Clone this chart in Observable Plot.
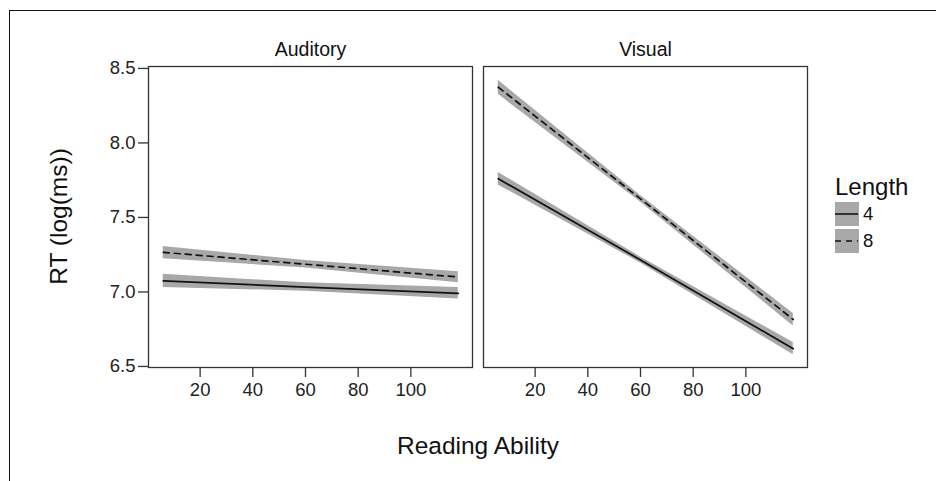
<!DOCTYPE html>
<html>
<head>
<meta charset="utf-8">
<script src="https://cdn.jsdelivr.net/npm/d3@7"></script>
<script src="https://cdn.jsdelivr.net/npm/@observablehq/plot@0.6"></script>
<style>
  body { margin: 0; background: #fff; }
  #wrap { position: relative; width: 936px; height: 481px; overflow: hidden; font-family: "Liberation Sans", Arial, sans-serif; }
  #border { position: absolute; left: 9px; top: 10px; right: -5px; bottom: -5px; border-top: 1.5px solid #111; border-left: 1.5px solid #111; }
  #legend { position: absolute; left: 835px; top: 173px; color: #111; }
  #legend .title { font-size: 24px; line-height: 28px; }
  #legend .row { display: flex; align-items: center; height: 26.5px; }
  #legend .row span { font-size: 18.5px; margin-left: 4px; }
</style>
</head>
<body>
<div id="wrap">
  <div id="chart"></div>
  <div id="border"></div>
  <div id="legend">
    <div class="title">Length</div>
    <div class="row"><svg width="24" height="24"><rect width="24" height="24" fill="#a8a8a8"/><line x1="0" x2="23" y1="12" y2="12" stroke="#111" stroke-width="1.6"/></svg><span>4</span></div>
    <div class="row"><svg width="24" height="24"><rect width="24" height="24" fill="#a8a8a8"/><line x1="0" x2="23" y1="12" y2="12" stroke="#111" stroke-width="1.6" stroke-dasharray="6,5"/></svg><span>8</span></div>
  </div>
</div>
<script>
// Data (fitted lines with confidence bands)
const modalities = ["Auditory", "Visual"];
const lengths = ["4", "8"];
const abilities = [6, 60, 118];
const fitAud4 = [7.074, 7.033, 6.990];
const loAud4  = [7.030, 7.005, 6.952];
const hiAud4  = [7.118, 7.061, 7.030];
const fitAud8 = [7.266, 7.186, 7.100];
const loAud8  = [7.222, 7.161, 7.062];
const hiAud8  = [7.305, 7.211, 7.136];
const fitVis4 = [7.760, 7.215, 6.619];
const loVis4  = [7.718, 7.195, 6.578];
const hiVis4  = [7.802, 7.235, 6.660];
const fitVis8 = [8.374, 7.625, 6.815];
const loVis8  = [8.326, 7.603, 6.772];
const hiVis8  = [8.420, 7.647, 6.856];
const xTicks = [20, 40, 60, 80, 100];
const yTicks = [6.5, 7.0, 7.5, 8.0, 8.5];

const series = [
  ["Auditory", "4", fitAud4, loAud4, hiAud4],
  ["Auditory", "8", fitAud8, loAud8, hiAud8],
  ["Visual", "4", fitVis4, loVis4, hiVis4],
  ["Visual", "8", fitVis8, loVis8, hiVis8]
];
const rows = series.flatMap(([m, l, f, lo, hi]) =>
  abilities.map((a, i) => ({modality: m, length: l, ability: a, fit: f[i], lo: lo[i], hi: hi[i]})));

const W = 936, H = 481;
const plot = Plot.plot({
  width: W, height: H,
  marginLeft: 148, marginRight: 128, marginTop: 66, marginBottom: 114,
  style: {fontFamily: "Liberation Sans, Arial, sans-serif", color: "#222", background: "transparent"},
  fx: {domain: modalities, paddingInner: 0.0328, paddingOuter: 0, label: null, axis: null},
  x: {domain: [0.4, 123.4]},
  y: {domain: [6.493, 8.513]},
  marks: [
    Plot.areaY(rows, {fx: "modality", x: "ability", y1: "lo", y2: "hi", z: "length", fill: "#a8a8a8", curve: "linear"}),
    Plot.lineY(rows.filter(d => d.length === "4"), {fx: "modality", x: "ability", y: "fit", stroke: "#111", strokeWidth: 1.7}),
    Plot.lineY(rows.filter(d => d.length === "8"), {fx: "modality", x: "ability", y: "fit", stroke: "#111", strokeWidth: 1.7, strokeDasharray: "6,5"}),
    Plot.frame({stroke: "#333", strokeWidth: 1.3}),
    Plot.axisY({ticks: yTicks, tickFormat: d3.format(".1f"), tickSize: 10, tickPadding: 3, fontSize: 18.5, label: null, stroke: "#333", strokeWidth: 1.3}),
    Plot.axisX({ticks: xTicks, tickSize: 10, tickPadding: 5, fontSize: 18.5, label: null, stroke: "#333", strokeWidth: 1.3}),
    Plot.text(modalities, {fx: d => d, text: d => d, frameAnchor: "top", dy: -11, lineAnchor: "bottom", fontSize: 19.5, fill: "#111"})
  ]
});
document.getElementById("chart").appendChild(plot);

const svg = d3.select(plot);
svg.append("text")
  .attr("transform", "translate(67,216.5) rotate(-90)")
  .attr("text-anchor", "middle")
  .attr("font-size", 24.5).attr("fill", "#111")
  .text("RT (log(ms))");
svg.append("text")
  .attr("x", 478).attr("y", 454)
  .attr("text-anchor", "middle")
  .attr("font-size", 24.5).attr("fill", "#111")
  .text("Reading Ability");
</script>
</body>
</html>
